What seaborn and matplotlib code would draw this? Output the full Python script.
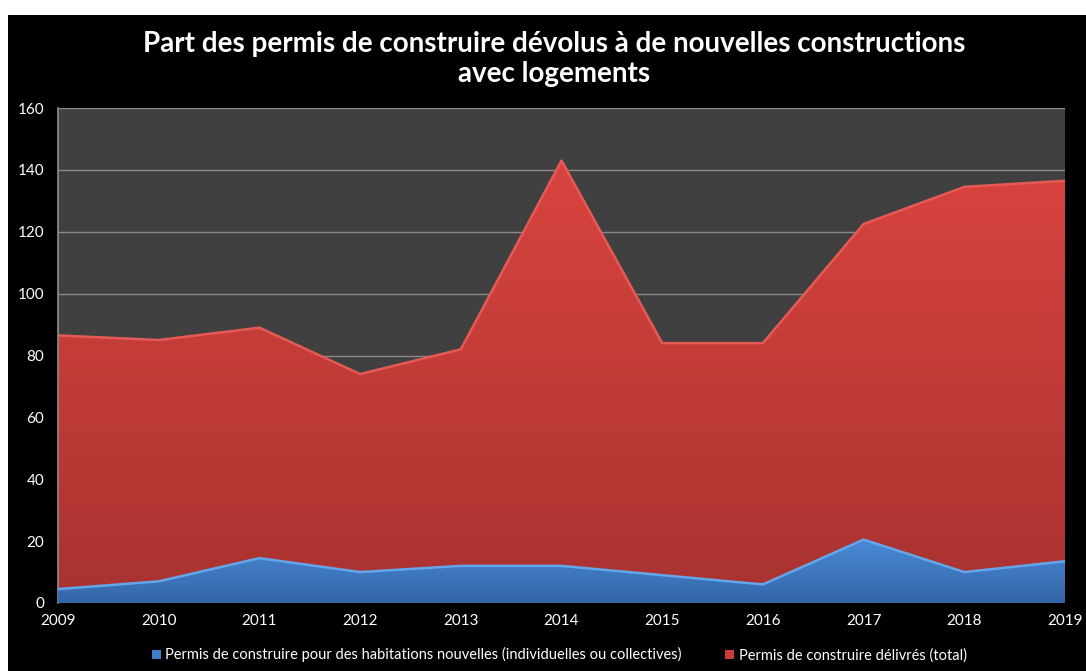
import numpy as np
import matplotlib
matplotlib.use("Agg")
import matplotlib.pyplot as plt
import seaborn as sns
from matplotlib.patches import Patch, Rectangle
from matplotlib.colors import LinearSegmentedColormap

# data
years = [2009, 2010, 2011, 2012, 2013, 2014, 2015, 2016, 2017, 2018, 2019]
permis_total = [86.5, 85, 89, 74, 82, 143, 84, 84, 122.5, 134.5, 136.5]
permis_logements = [4.5, 7, 14.5, 10, 12, 12, 9, 6, 20.5, 10, 13.5]
y_ticks = [0, 20, 40, 60, 80, 100, 120, 140, 160]

title = "Part des permis de construire dévolus à de nouvelles constructions\navec logements"
label_logements = "Permis de construire pour des habitations nouvelles (individuelles ou collectives)"
label_total = "Permis de construire délivrés (total)"


def gradient_area(ax, x, y, top_color, bottom_color, edge_color, zorder):
    """Fill area under y with a vertical gradient, plus a light edge line."""
    poly = ax.fill_between(x, 0, y, color="none", zorder=zorder)
    cmap = LinearSegmentedColormap.from_list("g", [bottom_color, top_color])
    grad = np.linspace(0, 1, 256).reshape(-1, 1)
    img = ax.imshow(grad, cmap=cmap, aspect="auto", origin="lower",
                    extent=[min(x), max(x), 0, max(y)], zorder=zorder)
    path = poly.get_paths()[0]
    img.set_clip_path(path, transform=ax.transData)
    sns.lineplot(x=x, y=y, ax=ax, color=edge_color, linewidth=1.8,
                 zorder=zorder + 0.5, legend=False)


def main():
    sns.set_theme(style="dark")
    plt.rcParams["font.family"] = ["Lato", "DejaVu Sans"]

    fig = plt.figure(figsize=(10.86, 6.71), dpi=100, facecolor="white")
    fig.patches.append(Rectangle((8 / 1086, 0), 1 - 8 / 1086, 1 - 15 / 671,
                                 transform=fig.transFigure, facecolor="black",
                                 edgecolor="none", zorder=-10))

    ax = fig.add_axes([58 / 1086, 68 / 671, 1007 / 1086, 495 / 671])
    ax.set_facecolor("#404040")

    gradient_area(ax, years, permis_total, "#d9443f", "#a83230", "#e55a55", 2)
    gradient_area(ax, years, permis_logements, "#4a8ad6", "#3466a8", "#64a6ea", 4)

    ax.set_xlim(years[0], years[-1])
    ax.set_ylim(0, 160)
    ax.set_xticks(years)
    ax.set_yticks(y_ticks)
    ax.grid(axis="y", color="#8a8a8a", linewidth=1, zorder=1)
    ax.set_axisbelow(True)
    ax.tick_params(colors="white", labelsize=11, length=0, pad=8)
    ax.tick_params(axis="y", pad=10)
    for side in ["top", "right", "bottom"]:
        ax.spines[side].set_visible(False)
    ax.spines["left"].set_color("#8a8a8a")
    ax.set_xlabel("")
    ax.set_ylabel("")

    fig.text(0.51, 0.912, title, ha="center", va="center", color="white",
             fontsize=20, fontweight="bold", linespacing=1.15)

    handles = [Patch(facecolor="#3f7ccc", edgecolor="none", label=label_logements),
               Patch(facecolor="#c83c3a", edgecolor="none", label=label_total)]
    fig.legend(handles=handles, loc="center", bbox_to_anchor=(0.515, 0.024),
               ncol=2, frameon=False, fontsize=10.5, labelcolor="white",
               handlelength=0.6, handleheight=0.6, handletextpad=0.3,
               columnspacing=3.0)

    fig.savefig("out.png", dpi=100, facecolor=fig.get_facecolor())


if __name__ == "__main__":
    main()
